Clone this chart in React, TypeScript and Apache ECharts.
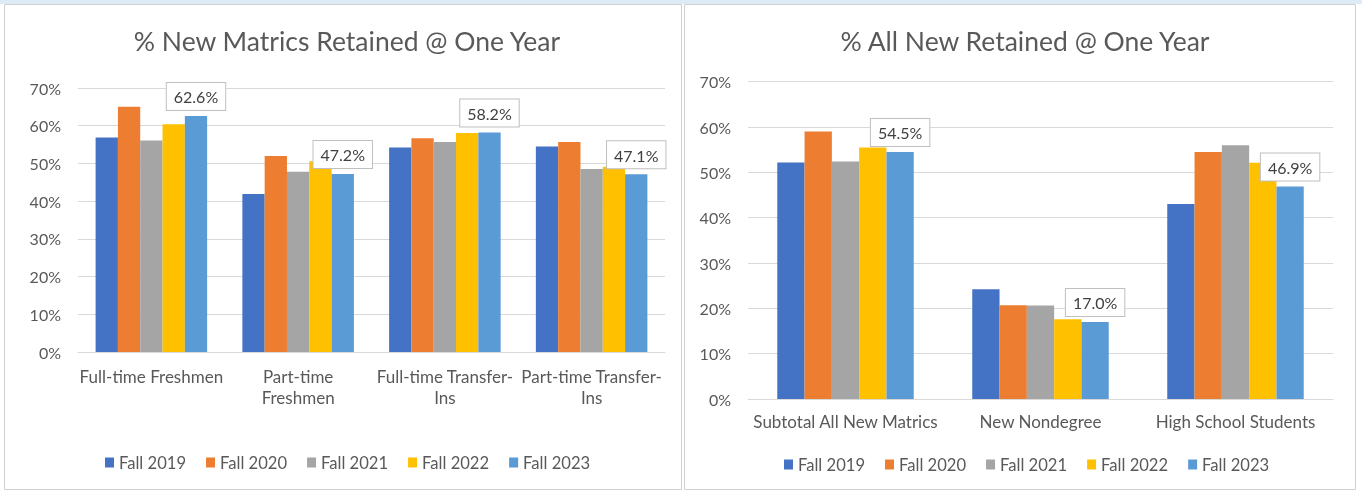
import React, { useEffect, useRef } from 'react';
import * as echarts from 'echarts';

const seriesNames = ['Fall 2019', 'Fall 2020', 'Fall 2021', 'Fall 2022', 'Fall 2023'];
const colors = ['#4472C4', '#ED7D31', '#A5A5A5', '#FFC000', '#5B9BD5'];

const leftTitle = '% New Matrics Retained @ One Year';
const leftCategories = ['Full-time Freshmen', 'Part-time\nFreshmen', 'Full-time Transfer-\nIns', 'Part-time Transfer-\nIns'];
const leftFall2019 = [56.9, 41.9, 54.2, 54.5];
const leftFall2020 = [65.0, 52.0, 56.7, 55.7];
const leftFall2021 = [56.1, 47.8, 55.7, 48.5];
const leftFall2022 = [60.4, 50.6, 58.1, 49.1];
const leftFall2023 = [62.6, 47.2, 58.2, 47.1];

const rightTitle = '% All New Retained @ One Year';
const rightCategories = ['Subtotal All New Matrics', 'New Nondegree', 'High School Students'];
const rightFall2019 = [52.2, 24.2, 43.0];
const rightFall2020 = [59.0, 20.7, 54.5];
const rightFall2021 = [52.4, 20.6, 56.0];
const rightFall2022 = [55.5, 17.6, 52.1];
const rightFall2023 = [54.5, 17.0, 46.9];

const yTicks = { min: 0, max: 70, interval: 10 };

const FONT = 'Lato';
const TXT = '#595959';

export default function App() {
  const ref = useRef<HTMLDivElement>(null);
  useEffect(() => {
    if (!ref.current) return;
    const chart = echarts.init(ref.current, null, { renderer: 'svg' });
    const leftData = [leftFall2019, leftFall2020, leftFall2021, leftFall2022, leftFall2023];
    const rightData = [rightFall2019, rightFall2020, rightFall2021, rightFall2022, rightFall2023];

    const labelStyle = {
      show: true,
      position: 'top',
      distance: 6,
      formatter: (p: any) => Number(p.value).toFixed(1) + '%',
      fontFamily: FONT,
      fontSize: 16,
      color: '#404040',
      backgroundColor: '#ffffff',
      borderColor: '#bfbfbf',
      borderWidth: 1,
      padding: [6, 7, 5, 7],
    };

    const mkSeries = (data: number[][], axis: number, gap: string) =>
      data.map((vals, i) => ({
        type: 'bar',
        name: seriesNames[i],
        xAxisIndex: axis,
        yAxisIndex: axis,
        data: vals,
        barGap: '0%',
        barCategoryGap: gap,
        itemStyle: { color: colors[i] },
        label: i === 4 ? labelStyle : { show: false },
        z: i === 4 ? 3 : 2,
      }));

    const yAxisCommon = {
      type: 'value',
      ...yTicks,
      axisLabel: { formatter: '{value}%', fontFamily: FONT, fontSize: 16, color: TXT, margin: 17 },
      splitLine: { lineStyle: { color: '#d9d9d9', width: 1 } },
      axisLine: { show: false },
      axisTick: { show: false },
    };
    const xAxisCommon = {
      type: 'category',
      axisLine: { lineStyle: { color: '#d9d9d9' } },
      axisTick: { show: false },
    };

    const legendCommon = {
      data: seriesNames,
      itemWidth: 9,
      itemHeight: 10,
      itemGap: 20,
      icon: 'rect',
      textStyle: { fontFamily: FONT, fontSize: 16.6, color: TXT },
    };

    chart.setOption({
      animation: false,
      color: colors,
      graphic: [
        { type: 'rect', shape: { x: 0, y: 0, width: 1362, height: 4 }, style: { fill: '#deeaf6' }, z: -10 },
        { type: 'rect', shape: { x: 4.5, y: 4.5, width: 677, height: 485 }, style: { fill: '#ffffff', stroke: '#d0d0d0', lineWidth: 1 }, z: -9 },
        { type: 'rect', shape: { x: 684.5, y: 4.5, width: 671, height: 485 }, style: { fill: '#ffffff', stroke: '#d0d0d0', lineWidth: 1 }, z: -9 },
      ],
      title: [
        { text: leftTitle, left: 342, top: 22, textAlign: 'center', textStyle: { fontFamily: FONT, fontSize: 26.5, fontWeight: 'normal', color: TXT } },
        { text: rightTitle, left: 1020, top: 22, textAlign: 'center', textStyle: { fontFamily: FONT, fontSize: 26.5, fontWeight: 'normal', color: TXT } },
      ],
      legend: [
        { ...legendCommon, left: 100, top: 449 },
        { ...legendCommon, left: 779, top: 451 },
      ],
      grid: [
        { left: 78, top: 88, width: 587, height: 264 },
        { left: 748, top: 81.7, width: 585, height: 317.3 },
      ],
      xAxis: [
        { ...xAxisCommon, gridIndex: 0, data: leftCategories, axisLabel: { fontFamily: FONT, fontSize: 17, color: TXT, lineHeight: 21, margin: 14, interval: 0 } },
        { ...xAxisCommon, gridIndex: 1, data: rightCategories, axisLabel: { fontFamily: FONT, fontSize: 17, color: TXT, lineHeight: 21, margin: 12, interval: 0 } },
      ],
      yAxis: [
        { ...yAxisCommon, gridIndex: 0 },
        { ...yAxisCommon, gridIndex: 1 },
      ],
      series: [...mkSeries(leftData, 0, '24%'), ...mkSeries(rightData, 1, '30%')],
    });
    return () => chart.dispose();
  }, []);
  return <div ref={ref} style={{ position: 'fixed', left: 0, top: 0, width: 1362, height: 491 }} />;
}
